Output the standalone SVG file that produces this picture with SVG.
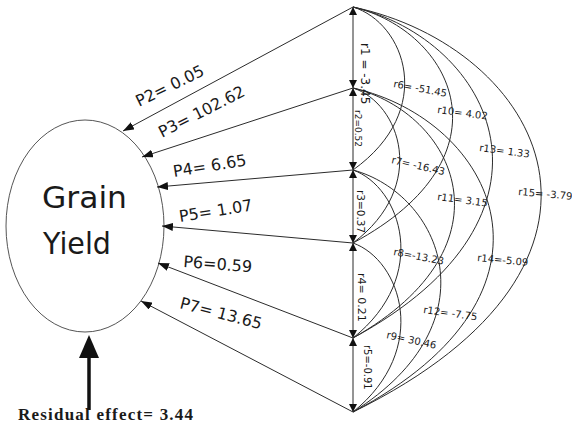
<svg xmlns="http://www.w3.org/2000/svg" width="572" height="428" viewBox="0 0 572 428">
<defs>
<style>
.ln{stroke:#2b2b2b;stroke-width:1;fill:none}
.pa{stroke:#2b2b2b;stroke-width:1;fill:none;marker-end:url(#ah)}
.vs{stroke:#2b2b2b;stroke-width:1;fill:none;marker-start:url(#vh);marker-end:url(#vh)}
.lab{font-family:"DejaVu Sans",sans-serif;fill:#1a1a1a}
.p{font-size:16px}
.r{font-size:10px}
</style>
<marker id="ah" viewBox="0 0 11 8" refX="11" refY="4" markerWidth="11" markerHeight="8" markerUnits="userSpaceOnUse" orient="auto"><path d="M0,0L11,4L0,8z" fill="#111"/></marker>
<marker id="vh" viewBox="0 0 8 8" refX="8" refY="4" markerWidth="8" markerHeight="8" markerUnits="userSpaceOnUse" orient="auto-start-reverse"><path d="M0,0L8,4L0,8z" fill="#111"/></marker>
</defs>
<rect width="572" height="428" fill="#fff"/>

<g id="node-grain-yield">
<ellipse cx="85" cy="226" rx="79" ry="106" fill="none" stroke="#555" stroke-width="1"/>
<text class="lab" x="42" y="208" font-size="31" textLength="85" lengthAdjust="spacingAndGlyphs">Grain</text>
<text class="lab" x="43" y="254" font-size="31" textLength="68" lengthAdjust="spacingAndGlyphs">Yield</text>
</g>

<g id="residual">
<line x1="89" y1="410" x2="89" y2="352" stroke="#111" stroke-width="3.5"/>
<polygon points="89,335 79,358 99,358" fill="#111"/>
<text x="18" y="420" font-family="'Liberation Serif',serif" font-weight="bold" font-size="17" fill="#1a1a1a" textLength="175" lengthAdjust="spacing">Residual effect= 3.44</text>
</g>

<g id="connectors">
<!-- vertical correlations -->
<line class="vs" x1="353" y1="7" x2="353" y2="88"/>
<line class="vs" x1="353" y1="88" x2="353" y2="170"/>
<line class="vs" x1="353" y1="170" x2="353" y2="243"/>
<line class="vs" x1="353" y1="243" x2="353" y2="338"/>
<line class="vs" x1="353" y1="338" x2="353" y2="412"/>
<!-- path coefficients -->
<line class="pa" x1="353" y1="7" x2="123" y2="131"/>
<line class="pa" x1="353" y1="88" x2="142" y2="157"/>
<line class="pa" x1="353" y1="170" x2="157" y2="187"/>
<line class="pa" x1="353" y1="243" x2="162" y2="226"/>
<line class="pa" x1="353" y1="338" x2="158" y2="263"/>
<line class="pa" x1="353" y1="412" x2="141" y2="301"/>
<!-- curved correlations -->
<path class="ln" d="M353,7 C405,23 437,110 353,170"/>
<path class="ln" d="M353,88 C400,103 429,186 353,243"/>
<path class="ln" d="M353,170 C401,187 431,276 353,338"/>
<path class="ln" d="M353,243 C401,260 431,349 353,412"/>
<path class="ln" d="M353,7 C453,31 515,156 353,243"/>
<path class="ln" d="M353,88 C455,113 518,245 353,338"/>
<path class="ln" d="M353,170 C441,194 496,322 353,412"/>
<path class="ln" d="M353,7 C493,40 580,215 353,338"/>
<path class="ln" d="M353,88 C494,120 581,292 353,412"/>
<path class="ln" d="M353,7 C542,47 659,262 353,412"/>
</g>

<g id="labels">
<text class="lab p" transform="translate(139,107) rotate(-26)">P2= 0.05</text>
<text class="lab p" transform="translate(162,138) rotate(-27)">P3= 102.62</text>
<text class="lab p" transform="translate(174,177) rotate(-9)">P4= 6.65</text>
<text class="lab p" transform="translate(180,222) rotate(-9)">P5= 1.07</text>
<text class="lab p" transform="translate(183,267) rotate(4.5)">P6=0.59</text>
<text class="lab p" transform="translate(179,308) rotate(14.7)">P7= 13.65</text>

<text class="lab" font-size="12" transform="translate(361,43) rotate(90)">r1 = -3.45</text>
<text class="lab" font-size="9" transform="translate(355,110) rotate(90)">r2=0.52</text>
<text class="lab" font-size="10.5" transform="translate(357,190) rotate(90)">r3=0.37</text>
<text class="lab" font-size="11" transform="translate(358,273) rotate(90)">r4= 0.21</text>
<text class="lab" font-size="10" transform="translate(364,345) rotate(90)">r5=-0.91</text>

<text class="lab r" transform="translate(393,87) rotate(10.4)">r6= -51.45</text>
<text class="lab r" transform="translate(391,163) rotate(13)">r7= -16.43</text>
<text class="lab r" transform="translate(393,255) rotate(11)">r8=-13.23</text>
<text class="lab r" transform="translate(386,338) rotate(12.3)">r9= 30.46</text>
<text class="lab r" transform="translate(437,113) rotate(7.5)">r10= 4.02</text>
<text class="lab r" transform="translate(437,200) rotate(7.4)">r11= 3.15</text>
<text class="lab r" transform="translate(423,313) rotate(7.7)">r12= -7.75</text>
<text class="lab r" transform="translate(479,151) rotate(7.4)">r13= 1.33</text>
<text class="lab r" transform="translate(477,261) rotate(5.5)">r14=-5.09</text>
<text class="lab r" transform="translate(518,195) rotate(5)">r15= -3.79</text>
</g>
</svg>
